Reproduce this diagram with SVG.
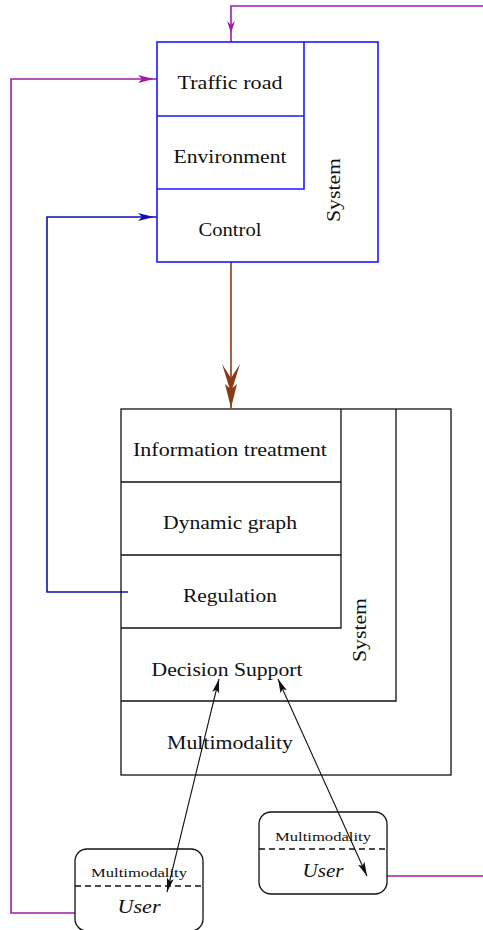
<svg xmlns="http://www.w3.org/2000/svg" width="483" height="930" viewBox="0 0 483 930">
<style>
.t{font-family:"Liberation Serif","Times New Roman",serif;font-size:19px;fill:#111;text-anchor:middle}
.s{font-family:"Liberation Serif","Times New Roman",serif;font-size:12px;fill:#111;text-anchor:middle}
.u{font-family:"Liberation Serif","Times New Roman",serif;font-size:18px;font-style:italic;fill:#111;text-anchor:middle}
.bb{fill:none;stroke:#1a1aff;stroke-width:1.6}
.kb{fill:none;stroke:#111;stroke-width:1.3}
.ub{fill:none;stroke:#111;stroke-width:1.3}
.dash{stroke:#111;stroke-width:1.3;stroke-dasharray:6,4}
.pl{fill:none;stroke:#a01ca8;stroke-width:1.6}
.bl{fill:none;stroke:#1010b0;stroke-width:1.6}
.br{fill:none;stroke:#8b3a14;stroke-width:1.6}
.kl{fill:none;stroke:#111;stroke-width:1.1}
</style>
<defs>
<marker id="ak" markerUnits="userSpaceOnUse" viewBox="0 0 16 8" refX="15" refY="4" markerWidth="16" markerHeight="8" orient="auto-start-reverse">
<path d="M15,4 L1,0.5 L4,4 L1,7.5 Z" fill="#111"/>
</marker>
</defs>
<g id="connectors">
<path class="pl" d="M483,6 H231 V42"/>
<path d="M231,33 L227,21 L231,25 L235,21 Z" fill="#a01ca8"/>
<path class="pl" d="M75,913 H11 V79 H157"/>
<path d="M154,79 L138,75 L142,79 L138,83 Z" fill="#a01ca8"/>
<path class="bl" d="M128,592 H47 V217 H157"/>
<path d="M154,217 L138,213 L142,217 L138,221 Z" fill="#1010b0"/>
<path class="br" d="M231,262 V408"/>
<path d="M231,408 L225,384 L229.5,388 L222,364 L231,378 L240,364 L232.5,388 L237,384 Z" fill="#8b3a14"/>
<path class="kl" d="M219,679 L167,892" marker-start="url(#ak)" marker-end="url(#ak)"/>
<path class="kl" d="M278,679 L367,876" marker-start="url(#ak)" marker-end="url(#ak)"/>
<path class="pl" d="M387,876 H483"/>
</g>
<g id="top-system">
<rect class="bb" x="157" y="42" width="221" height="220"/>
<path class="bb" d="M157,116 H304 M157,189 H304 V42"/>
<text class="t" x="230" y="89" textLength="105" lengthAdjust="spacingAndGlyphs">Traffic road</text>
<text class="t" x="230" y="163" textLength="113" lengthAdjust="spacingAndGlyphs">Environment</text>
<text class="t" x="230" y="236" textLength="63" lengthAdjust="spacingAndGlyphs">Control</text>
<text class="t" transform="translate(340,190) rotate(-90)" textLength="64" lengthAdjust="spacingAndGlyphs">System</text>
</g>
<g id="bottom-system">
<rect class="kb" x="121" y="409" width="330" height="366"/>
<path class="kb" d="M121,701 H396 V409 M121,628 H341 V409 M121,482 H341 M121,555 H341"/>
<text class="t" x="230" y="456" textLength="194" lengthAdjust="spacingAndGlyphs">Information treatment</text>
<text class="t" x="230" y="529" textLength="134" lengthAdjust="spacingAndGlyphs">Dynamic graph</text>
<text class="t" x="230" y="602" textLength="94" lengthAdjust="spacingAndGlyphs">Regulation</text>
<text class="t" x="227" y="676" textLength="151" lengthAdjust="spacingAndGlyphs">Decision Support</text>
<text class="t" x="230" y="749" textLength="126" lengthAdjust="spacingAndGlyphs">Multimodality</text>
<text class="t" transform="translate(366,630) rotate(-90)" textLength="64" lengthAdjust="spacingAndGlyphs">System</text>
</g>
<g id="user-left">
<rect class="ub" x="75" y="849" width="128" height="82" rx="12"/>
<line class="dash" x1="75" y1="886" x2="203" y2="886"/>
<text class="s" x="139" y="877" textLength="96" lengthAdjust="spacingAndGlyphs">Multimodality</text>
<text class="u" x="139" y="913" textLength="43" lengthAdjust="spacingAndGlyphs">User</text>
</g>
<g id="user-right">
<rect class="ub" x="259" y="812" width="128" height="82" rx="12"/>
<line class="dash" x1="259" y1="849" x2="387" y2="849"/>
<text class="s" x="323" y="841" textLength="96" lengthAdjust="spacingAndGlyphs">Multimodality</text>
<text class="u" x="323" y="877" textLength="41" lengthAdjust="spacingAndGlyphs">User</text>
</g>
</svg>
